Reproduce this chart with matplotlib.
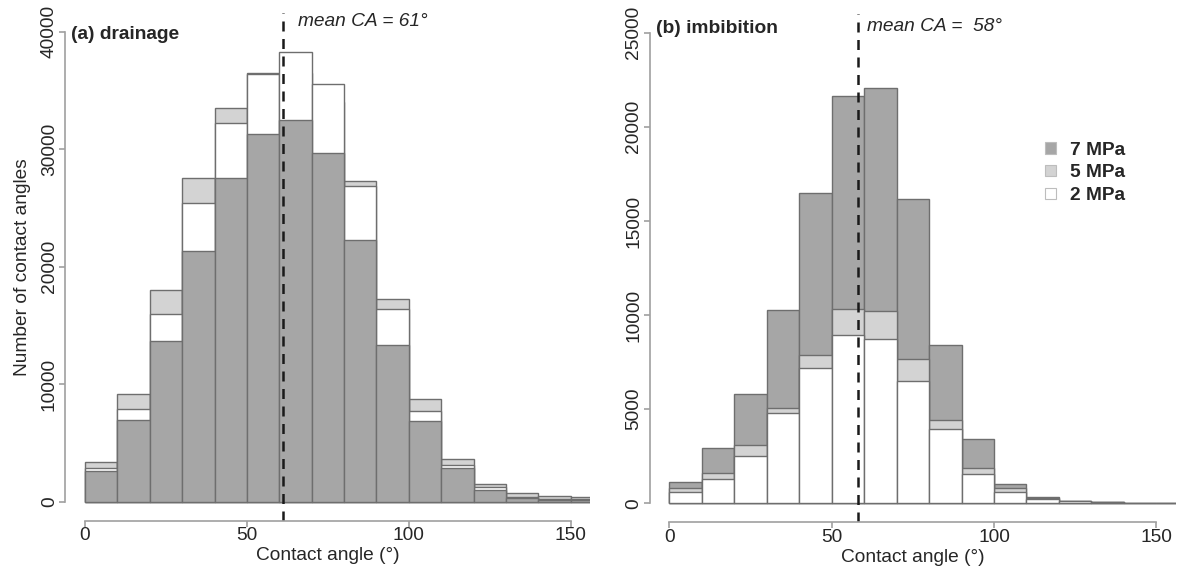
import matplotlib
matplotlib.use("Agg")
import matplotlib.pyplot as plt
import numpy as np
from matplotlib.patches import Patch

plt.rcParams['font.family'] = ['Liberation Sans', 'DejaVu Sans']

bin_edges = [0, 10, 20, 30, 40, 50, 60, 70, 80, 90, 100, 110, 120, 130, 140, 150, 160]

# (a) drainage counts
dr_7mpa = [2650, 6950, 13700, 21340, 27520, 31320, 32490, 29650, 22300, 13340, 6870, 2890, 970, 290, 150, 120]
dr_5mpa = [3400, 9150, 18020, 27520, 33480, 36510, 36500, 34000, 27270, 17250, 8720, 3660, 1530, 710, 510, 400]
dr_2mpa = [2850, 7850, 15950, 25400, 32200, 36400, 38300, 35570, 26870, 16430, 7720, 3100, 1230, 430, 240, 200]

# (b) imbibition counts
im_7mpa = [1130, 2940, 5790, 10270, 16500, 21630, 22080, 16190, 8410, 3430, 1040, 340, 140, 70, 40, 15]
im_5mpa = [800, 1590, 3110, 5080, 7860, 10310, 10200, 7670, 4430, 1860, 800, 270, 115, 55, 32, 10]
im_2mpa = [620, 1310, 2530, 4780, 7170, 8930, 8710, 6510, 3950, 1540, 620, 220, 100, 45, 25, 8]

labels = ["7 MPa", "5 MPa", "2 MPa"]
c7, c5, c2 = "#a6a6a6", "#d3d3d3", "#ffffff"
edge = "#6e6e6e"
axis_col = "#a0a0a0"
txt_col = "#262626"
FS = 13.8

fig = plt.figure(figsize=(11.81, 5.69), dpi=100)
axA = fig.add_axes([0.05546, 0.0852, 0.44437, 0.8921])
axB = fig.add_axes([0.5504, 0.0824, 0.44513, 0.8932])

edges = np.array(bin_edges)
lefts = edges[:-1]
widths = np.diff(edges)


def draw_hist(ax, series, colors):
    for vals, col in zip(series, colors):
        ax.bar(lefts, vals, width=widths, align='edge', color=col,
               edgecolor=edge, linewidth=1.0)


def style(ax, ymax, ystep):
    ax.set_xlim(-6, 156)
    ax.set_ylim(-ymax * 0.04, ymax * 1.04)
    for s in ['top', 'right']:
        ax.spines[s].set_visible(False)
    ax.spines['left'].set_position(('data', -6))
    ax.spines['bottom'].set_position(('data', -ymax * 0.04))
    ax.spines['left'].set_bounds(0, ymax)
    ax.spines['bottom'].set_bounds(0, 150)
    for s in ['left', 'bottom']:
        ax.spines[s].set_color(axis_col)
        ax.spines[s].set_linewidth(1.2)
    ax.set_xticks([0, 50, 100, 150])
    ax.set_yticks(np.arange(0, ymax + 1, ystep))
    ax.tick_params(axis='both', colors=axis_col, labelcolor=txt_col,
                   labelsize=FS, length=4, width=1.2)
    ax.tick_params(axis='y', pad=1.5)
    ax.tick_params(axis='x', pad=1)
    for lab in ax.get_yticklabels():
        lab.set_rotation(90)
        lab.set_va('center')
    ax.set_xlabel("Contact angle (°)", fontsize=FS, color=txt_col, labelpad=2)


# panel a: 5 MPa back, 2 MPa middle, 7 MPa front
draw_hist(axA, [dr_5mpa, dr_2mpa, dr_7mpa], [c5, c2, c7])
style(axA, 40000, 10000)
axA.set_ylabel("Number of contact angles", fontsize=FS, color=txt_col)
axA.yaxis.set_label_coords(-0.066, 0.5)
axA.axvline(61, color='#1a1a1a', linestyle=(0, (4, 3)), linewidth=1.8)
axA.text(-4.3, 39800, "(a) drainage", fontsize=FS, fontweight='bold', color=txt_col,
         va='center', ha='left')
axA.text(65.9, 40850, "mean CA = 61°", fontsize=FS, fontstyle='italic', color=txt_col,
         va='center', ha='left')

# panel b: 7 MPa back, 5 MPa middle, 2 MPa front
draw_hist(axB, [im_7mpa, im_5mpa, im_2mpa], [c7, c5, c2])
style(axB, 25000, 5000)
axB.axvline(58, color='#1a1a1a', linestyle=(0, (4, 3)), linewidth=1.8)
axB.text(-4.2, 25240, "(b) imbibition", fontsize=FS, fontweight='bold', color=txt_col,
         va='center', ha='left')
axB.text(60.9, 25320, "mean CA =  58°", fontsize=FS, fontstyle='italic', color=txt_col,
         va='center', ha='left')

# legend
handles = [Patch(facecolor=c, edgecolor='#bdbdbd', linewidth=0.8) for c in (c7, c5, c2)]
leg = axB.legend(handles, labels, loc='center left', bbox_to_anchor=(0.752, 0.687),
                 frameon=False, prop={'weight': 'bold', 'size': FS},
                 handlelength=0.55, handleheight=0.55, handletextpad=0.75,
                 labelspacing=0.3, borderaxespad=0, borderpad=0)
for t in leg.get_texts():
    t.set_color(txt_col)

fig.savefig("out.png", dpi=100)
